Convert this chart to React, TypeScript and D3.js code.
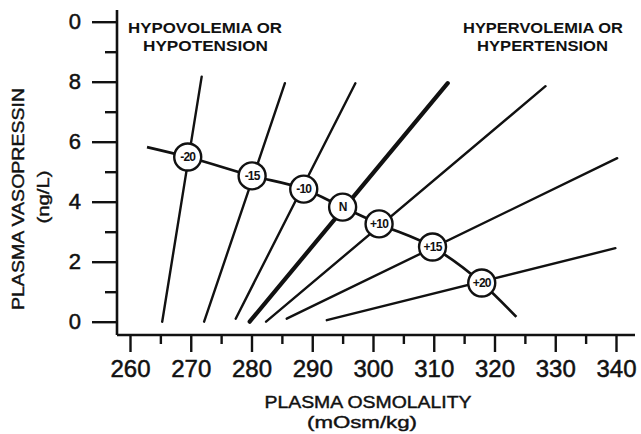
import React, { useRef, useEffect } from 'react';
import * as d3 from 'd3';

// osmolality ticks (x) and vasopressin ticks (y)
const xTicks = [260, 270, 280, 290, 300, 310, 320, 330, 340];
const xMinorTicks = [265, 275, 285, 295, 305, 315, 325, 335];
const yTicks = [0, 2, 4, 6, 8, 10];
const yTickLabels = ['0', '2', '4', '6', '8', '0'];
const yMinorTicks = [1, 3, 5, 7, 9];

// one regression line per volume / pressure change
const lineLabels = ['-20', '-15', '-10', 'N', '+10', '+15', '+20'];
const lineStartX = [265.3, 272.2, 277.4, 279.7, 282.4, 285.8, 292.4];
const lineStartY = [0, 0, 0.1, 0, 0, 0.1, 0.05];
const lineEndX = [271.8, 285.5, 297.1, 312.3, 328.4, 340.2, 339.9];
const lineEndY = [8.17, 7.95, 7.95, 7.95, 7.85, 5.45, 2.45];

// circled points where the lines meet the trend
const pointX = [269.5, 280.1, 288.6, 295.0, 301.0, 309.8, 317.9];
const pointY = [5.49, 4.86, 4.42, 3.82, 3.26, 2.49, 1.29];

// ends of the falling trend line
const trendStart = [262.8, 5.82];
const trendEnd = [323.6, 0.16];

const App = () => {
    const svgRef = useRef(null);

    useEffect(() => {
        const svg = d3.select(svgRef.current);
        svg.selectAll('*').remove();
        const ink = '#111';
        const font = '"Liberation Sans", Arial, sans-serif';

        const x = d3.scaleLinear().domain([260, 340]).range([130, 616]);
        const y = d3.scaleLinear().domain([0, 10]).range([321.7, 21.7]);
        const axisY = 335;
        const axisX = 117;

        // x axis
        const gx = svg.append('g').attr('transform', `translate(0,${axisY})`);
        gx.call(d3.axisBottom(x).tickValues(xTicks).tickSize(17).tickPadding(8).tickFormat(d => String(d)));
        gx.append('g').call(d3.axisBottom(x).tickValues(xMinorTicks).tickSize(9).tickFormat(() => ''));
        gx.selectAll('.domain').remove();
        gx.selectAll('line').attr('stroke', ink).attr('stroke-width', 2.4);
        gx.selectAll('text')
            .attr('fill', ink)
            .attr('stroke', ink)
            .attr('stroke-width', 0.5)
            .attr('font-family', font)
            .attr('font-size', 24);
        svg.append('line')
            .attr('x1', axisX).attr('x2', 635)
            .attr('y1', axisY).attr('y2', axisY)
            .attr('stroke', ink).attr('stroke-width', 2.6);

        // y axis
        const gy = svg.append('g').attr('transform', `translate(${axisX},0)`);
        gy.call(d3.axisLeft(y).tickValues(yTicks).tickSize(25).tickPadding(11).tickFormat((d, i) => yTickLabels[i]));
        gy.append('g').call(d3.axisLeft(y).tickValues(yMinorTicks).tickSize(12).tickFormat(() => ''));
        gy.selectAll('.domain').remove();
        gy.selectAll('line').attr('stroke', ink).attr('stroke-width', 2.4);
        gy.selectAll('text')
            .attr('fill', ink)
            .attr('stroke', ink)
            .attr('stroke-width', 0.5)
            .attr('font-family', font)
            .attr('font-size', 22);
        svg.append('line')
            .attr('x1', axisX).attr('x2', axisX)
            .attr('y1', 10).attr('y2', axisY)
            .attr('stroke', ink).attr('stroke-width', 2.6);

        // regression lines
        svg.append('g')
            .selectAll('line')
            .data(lineLabels)
            .join('line')
            .attr('x1', (d, i) => x(lineStartX[i]))
            .attr('y1', (d, i) => y(lineStartY[i]))
            .attr('x2', (d, i) => x(lineEndX[i]))
            .attr('y2', (d, i) => y(lineEndY[i]))
            .attr('stroke', ink)
            .attr('stroke-width', d => (d === 'N' ? 4.2 : 2.4))
            .attr('stroke-linecap', 'round');

        // trend through the circled points
        const trend = [trendStart, ...pointX.map((px, i) => [px, pointY[i]]), trendEnd];
        svg.append('path')
            .datum(trend)
            .attr('d', d3.line().x(d => x(d[0])).y(d => y(d[1])).curve(d3.curveMonotoneX))
            .attr('fill', 'none')
            .attr('stroke', ink)
            .attr('stroke-width', 2.7);

        // circles with labels
        const pts = svg.append('g')
            .selectAll('g')
            .data(lineLabels)
            .join('g')
            .attr('transform', (d, i) => `translate(${x(pointX[i])},${y(pointY[i])})`);
        pts.append('circle')
            .attr('r', 13.5)
            .attr('fill', '#fff')
            .attr('stroke', ink)
            .attr('stroke-width', 2.4);
        pts.append('text')
            .text(d => d)
            .attr('text-anchor', 'middle')
            .attr('dy', '0.36em')
            .attr('font-family', font)
            .attr('font-size', 12)
            .attr('font-weight', 'bold')
            .attr('letter-spacing', -0.8)
            .attr('fill', ink);

        // corner notes
        const note = (t, cx, by, len) => svg.append('text')
            .text(t)
            .attr('x', cx).attr('y', by)
            .attr('text-anchor', 'middle')
            .attr('font-family', font)
            .attr('font-size', 15)
            .attr('font-weight', 'bold')
            .attr('textLength', len)
            .attr('lengthAdjust', 'spacingAndGlyphs')
            .attr('fill', ink);
        note('HYPOVOLEMIA OR', 205, 33, 154);
        note('HYPOTENSION', 205.5, 51, 125);
        note('HYPERVOLEMIA OR', 543, 33, 160);
        note('HYPERTENSION', 542.5, 51, 131);

        // axis titles
        const title = (t, cx, by, len, rot) => svg.append('text')
            .text(t)
            .attr('transform', rot ? `translate(${cx},${by}) rotate(-90)` : `translate(${cx},${by})`)
            .attr('text-anchor', 'middle')
            .attr('dy', rot ? '0.36em' : 0)
            .attr('font-family', font)
            .attr('font-size', 16)
            .attr('stroke', ink)
            .attr('stroke-width', 0.4)
            .attr('textLength', len)
            .attr('lengthAdjust', 'spacingAndGlyphs')
            .attr('fill', ink);
        title('PLASMA OSMOLALITY', 368, 408, 207, false);
        title('(mOsm/kg)', 362, 428, 110, false);
        title('PLASMA VASOPRESSIN', 18, 199, 222, true);
        title('(ng/L)', 43, 197, 53, true);
    }, []);

    return (
        <svg
            ref={svgRef}
            width={641}
            height={434}
            style={{ position: 'absolute', left: 0, top: 0, background: '#fff' }}
        />
    );
};

export default App;
